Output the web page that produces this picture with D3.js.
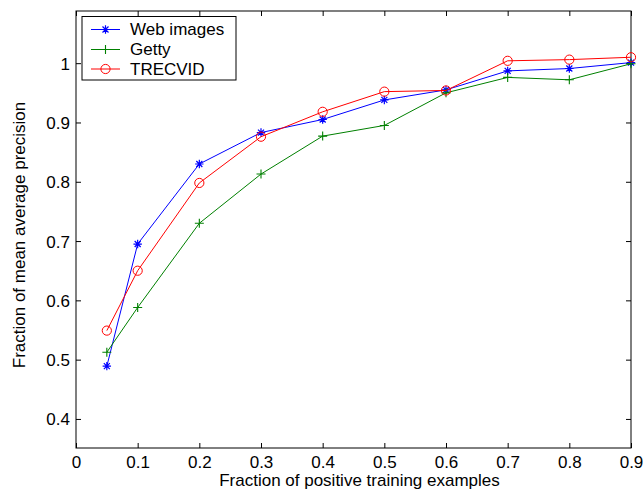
<!DOCTYPE html>
<html><head><meta charset="utf-8">
<script src="https://cdn.jsdelivr.net/npm/d3@7"></script>
<style>body{margin:0;background:#fff}svg{display:block}text{font-family:"Liberation Sans",Arial,sans-serif;}</style>
</head><body>
<svg id="c" width="643" height="498"></svg>
<script>
const xs = [0.05,0.1,0.2,0.3,0.4,0.5,0.6,0.7,0.8,0.9];
const webImages = [0.489,0.695,0.830,0.883,0.905,0.938,0.955,0.987,0.991,1.001];
const getty     = [0.5125,0.588,0.730,0.813,0.877,0.895,0.950,0.976,0.972,0.999];
const trecvid   = [0.549,0.650,0.798,0.876,0.918,0.952,0.954,1.004,1.006,1.010];
const xTicks = [0,0.1,0.2,0.3,0.4,0.5,0.6,0.7,0.8,0.9];
const yTicks = [0.4,0.5,0.6,0.7,0.8,0.9,1];
const seriesNames = ["Web images","Getty","TRECVID"];
const seriesColors = ["#0000ff","#008000","#ff0000"];
const seriesMarkers = ["star","plus","circle"];
const seriesData = [webImages,getty,trecvid];

const svg = d3.select("#c");
const L=76,R=631,T=11,B=448;
const x = d3.scaleLinear().domain([0,0.9]).range([L,R]);
const y = d3.scaleLinear().domain([0.351,1.088]).range([B,T]);
const fs = 17;

svg.append("rect").attr("x",L).attr("y",T).attr("width",R-L).attr("height",B-T)
  .attr("fill","none").attr("stroke","#000").attr("stroke-width",1);

const tl=5;
const gx = svg.append("g").attr("transform",`translate(0,${B})`)
  .call(d3.axisBottom(x).tickValues(xTicks).tickSize(-tl).tickPadding(8).tickFormat(d=>d3.format("")(d)));
const gxt = svg.append("g").attr("transform",`translate(0,${T})`)
  .call(d3.axisTop(x).tickValues(xTicks).tickSize(-tl).tickFormat(""));
const gy = svg.append("g").attr("transform",`translate(${L},0)`)
  .call(d3.axisLeft(y).tickValues(yTicks).tickSize(-tl).tickPadding(6).tickFormat(d=>d3.format("")(d)));
const gyr = svg.append("g").attr("transform",`translate(${R},0)`)
  .call(d3.axisRight(y).tickValues(yTicks).tickSize(-tl).tickFormat(""));
[gx,gxt,gy,gyr].forEach(g=>{
  g.select(".domain").remove();
  g.selectAll("line").attr("stroke","#000");
  g.selectAll("text").attr("font-size",fs).attr("fill","#000").attr("font-family",'"Liberation Sans",Arial,sans-serif');
});
gy.selectAll("text").attr("dy","0.35em");

const line = d3.line().x((d,i)=>x(xs[i])).y(d=>y(d));
function marker(g,type,cx,cy,color){
  if(type==="circle"){
    g.append("circle").attr("cx",cx).attr("cy",cy).attr("r",4.6).attr("fill","none").attr("stroke",color).attr("stroke-width",1);
  } else if(type==="plus"){
    const s=4.5;
    g.append("path").attr("d",`M${cx-s},${cy}H${cx+s}M${cx},${cy-s}V${cy+s}`).attr("stroke",color).attr("stroke-width",1.1);
  } else {
    const s=4.2, d=3.0;
    g.append("path").attr("d",`M${cx-s},${cy}H${cx+s}M${cx},${cy-s}V${cy+s}M${cx-d},${cy-d}L${cx+d},${cy+d}M${cx-d},${cy+d}L${cx+d},${cy-d}`)
      .attr("stroke",color).attr("stroke-width",1.2);
  }
}
seriesData.forEach((data,k)=>{
  const g = svg.append("g");
  g.append("path").datum(data).attr("d",line).attr("fill","none").attr("stroke",seriesColors[k]).attr("stroke-width",1);
  data.forEach((v,i)=>marker(g,seriesMarkers[k],x(xs[i]),y(v),seriesColors[k]));
});

svg.append("text").attr("x",(L+R)/2+6).attr("y",486).attr("text-anchor","middle").attr("font-size",fs).text("Fraction of positive training examples");
svg.append("text").attr("transform","translate(25,235) rotate(-90)").attr("text-anchor","middle").attr("font-size",fs).text("Fraction of mean average precision");

const lg = svg.append("g");
lg.append("rect").attr("x",82).attr("y",16.5).attr("width",154).attr("height",63.5).attr("fill","#fff").attr("stroke","#000").attr("stroke-width",1);
const rows=[29.5,49.5,69];
seriesNames.forEach((n,k)=>{
  lg.append("line").attr("x1",91).attr("x2",120).attr("y1",rows[k]).attr("y2",rows[k]).attr("stroke",seriesColors[k]).attr("stroke-width",1);
  marker(lg,seriesMarkers[k],105.5,rows[k],seriesColors[k]);
  lg.append("text").attr("x",130).attr("y",rows[k]).attr("dy","0.35em").attr("font-size",fs).text(n);
});
</script>
</body></html>
